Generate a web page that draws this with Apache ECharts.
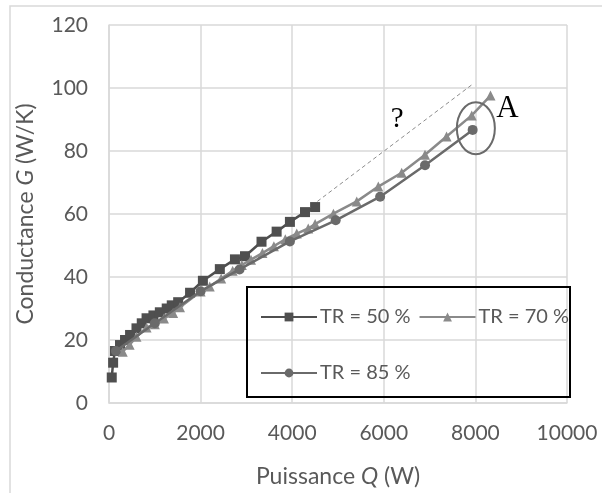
<!DOCTYPE html>
<html><head><meta charset="utf-8">
<script src="https://cdn.jsdelivr.net/npm/echarts@6/dist/echarts.min.js"></script>
<style>html,body{margin:0;padding:0;background:#fff}#c{width:602px;height:493px}</style>
</head><body><div id="c"></div>
<script>
const q50 = [60, 90, 130, 240, 350, 460, 600, 715, 820, 970, 1110, 1260, 1370, 1510, 1770, 2050, 2420, 2750, 2970, 3330, 3660, 3950, 4280, 4500];
const g50 = [8.1, 12.8, 16.5, 18.4, 20, 21.6, 23.7, 25.3, 26.9, 27.8, 28.8, 30, 31, 32, 35, 38.8, 42.5, 45.6, 46.6, 51.2, 54.4, 57.5, 60.6, 62.2];
const q70 = [300, 450, 600, 820, 1000, 1200, 1400, 1550, 2000, 2200, 2450, 2700, 2900, 3100, 3350, 3600, 3850, 4100, 4350, 4500, 4900, 5410, 5880, 6390, 6900, 7370, 7920, 8330];
const g70 = [16.3, 18.5, 21.0, 24.0, 25.0, 26.8, 28.6, 30.4, 35.4, 37.0, 39.5, 42.0, 43.8, 45.5, 47.6, 49.8, 52.0, 53.8, 55.4, 56.8, 60.1, 64.0, 68.7, 73.1, 78.8, 84.6, 91.3, 97.6];
const q85 = [150, 1000, 2000, 2850, 3950, 4950, 5920, 6900, 7940];
const g85 = [16.5, 25.3, 35.5, 42.4, 51.3, 58.0, 65.5, 75.5, 86.7];
const seriesNames = ['TR = 50 %', 'TR = 70 %', 'TR = 85 %'];
const xTicks = [0, 2000, 4000, 6000, 8000, 10000];
const yTicks = [0, 20, 40, 60, 80, 100, 120];
const guideQ = [4550, 7920];
const guideG = [64, 101];
const questionPos = [6290, 90];
const labelAPos = [8700, 93.5];
const ellipseCenter = [8010, 87.2];

const zip = (a, b) => a.map((v, i) => [v, b[i]]);
const chart = echarts.init(document.getElementById('c'));
const FONT = 'Lato';
const lab = '#595959';
chart.setOption({
  animation: false,
  textStyle: {fontFamily: FONT},
  grid: {left: 109, right: 35, top: 25, bottom: 84},
  xAxis: {
    type: 'value', min: xTicks[0], max: xTicks[xTicks.length - 1], interval: 2000,
    axisLine: {show: true, lineStyle: {color: '#d9d9d9', width: 1.5}},
    axisTick: {show: false},
    splitLine: {lineStyle: {color: '#d9d9d9', width: 1.5}},
    axisLabel: {color: lab, fontSize: 21, margin: 20, fontFamily: FONT, formatter: v => String(v)},
    name: '{n|Puissance }{i|Q}{n| (W)}', nameLocation: 'middle', nameGap: 62,
    nameTextStyle: {rich: {n: {fontSize: 23, color: lab, fontFamily: FONT}, i: {fontSize: 23, color: lab, fontStyle: 'italic', fontFamily: FONT}}}
  },
  yAxis: {
    type: 'value', min: yTicks[0], max: yTicks[yTicks.length - 1], interval: 20,
    axisLine: {show: true, lineStyle: {color: '#d9d9d9', width: 1.5}},
    axisTick: {show: false},
    splitLine: {lineStyle: {color: '#d9d9d9', width: 1.5}},
    axisLabel: {color: lab, fontSize: 21, margin: 21, fontFamily: FONT},
    name: '{n|Conductance }{i|G}{n| (W/K)}', nameLocation: 'middle', nameGap: 72,
    nameTextStyle: {rich: {n: {fontSize: 23, color: lab, fontFamily: FONT}, i: {fontSize: 23, color: lab, fontStyle: 'italic', fontFamily: FONT}}}
  },
  legend: [
    {data: [seriesNames[0], seriesNames[1]], left: 255, top: 302, itemWidth: 56, itemHeight: 11, itemGap: 8,
     textStyle: {fontSize: 20, color: lab, fontFamily: FONT, padding: [0, 0, 0, -2]}},
    {data: [seriesNames[2]], left: 255, top: 358, itemWidth: 56, itemHeight: 11,
     textStyle: {fontSize: 20, color: lab, fontFamily: FONT, padding: [0, 0, 0, -2]}}
  ],
  series: [
    {name: seriesNames[0], type: 'line', data: zip(q50, g50), symbol: 'rect', symbolSize: 10,
     lineStyle: {color: '#4f4f4f', width: 2.5}, itemStyle: {color: '#4f4f4f'}, z: 3},
    {name: seriesNames[1], type: 'line', data: zip(q70, g70), symbol: 'triangle', symbolSize: 10,
     lineStyle: {color: '#8a8a8a', width: 2.5}, itemStyle: {color: '#8a8a8a'}, z: 4},
    {name: seriesNames[2], type: 'line', data: zip(q85, g85), symbol: 'circle', symbolSize: 10,
     lineStyle: {color: '#6a6a6a', width: 2.5}, itemStyle: {color: '#6a6a6a'}, z: 5},
    {name: 'guide', type: 'line', data: zip(guideQ, guideG), symbol: 'none', silent: true,
     lineStyle: {color: '#8c8c8c', width: 1, type: [4, 3]}, z: 2}
  ]
});
const cp = p => chart.convertToPixel({gridIndex: 0}, p);
const qp = cp(questionPos), ap = cp(labelAPos), ec = cp(ellipseCenter);
chart.setOption({
  graphic: [
    {type: 'rect', shape: {x: 10, y: 6, width: 620, height: 520}, style: {fill: 'none', stroke: '#d9d9d9', lineWidth: 1.5}, silent: true, z: 0},
    {type: 'rect', shape: {x: 247, y: 287, width: 323, height: 110}, style: {fill: 'none', stroke: '#000', lineWidth: 2}, z: 10},
    {type: 'text', x: qp[0], y: qp[1], style: {text: '?', font: '29px "Liberation Serif"', fill: '#000', align: 'center', verticalAlign: 'middle'}, z: 10},
    {type: 'text', x: ap[0], y: ap[1], style: {text: 'A', font: '31px "Liberation Serif"', fill: '#000', align: 'center', verticalAlign: 'middle'}, z: 10},
    {type: 'ellipse', shape: {cx: ec[0], cy: ec[1], rx: 19, ry: 26}, style: {fill: 'none', stroke: '#6a6a6a', lineWidth: 2}, z: 10}
  ]
});
</script></body></html>
